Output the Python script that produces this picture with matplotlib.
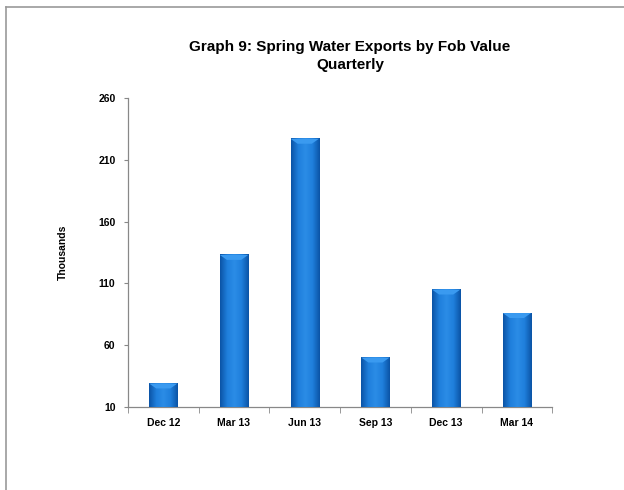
import matplotlib
matplotlib.use("Agg")
import matplotlib.pyplot as plt
import numpy as np
from matplotlib.colors import LinearSegmentedColormap
from matplotlib.lines import Line2D

categories = ["Dec 12", "Mar 13", "Jun 13", "Sep 13", "Dec 13", "Mar 14"]
values = [29, 133, 227, 50, 105, 86]
yticks = [10, 60, 110, 160, 210, 260]

plt.rcParams['font.family'] = ['Liberation Sans', 'DejaVu Sans']

fig = plt.figure(figsize=(6.24, 4.9), dpi=100)
ax = fig.add_axes([0.205, 0.1694, 0.68, 0.6306])

ymin, ymax = yticks[0], yticks[-1]
x = np.arange(len(categories))
bars = ax.bar(x, values, width=0.4, bottom=0, color='#1a74cf', zorder=2)

cmap = LinearSegmentedColormap.from_list('bar', ['#0b54a6', '#1f7fdc', '#2b8ce6', '#1f7fdc', '#0b54a6'])
grad = np.linspace(0, 1, 64).reshape(1, -1)
for b in bars:
    x0, w, h = b.get_x(), b.get_width(), b.get_height()
    im = ax.imshow(grad, cmap=cmap, extent=[x0, x0 + w, ymin, h], aspect='auto',
                   zorder=3, interpolation='bilinear')
    # lighter bevel at top
    top_h = min(4, (h - ymin) * 0.3)
    ax.fill([x0, x0 + w, x0 + w * 0.75, x0 + w * 0.25], [h, h, h - top_h, h - top_h],
            color='#3a9af0', zorder=4, lw=0)
ax.set_xlim(-0.5, len(categories) - 0.5)
ax.set_ylim(ymin, ymax)

ax.set_yticks(yticks)
ax.set_yticklabels([str(v) for v in yticks], fontsize=7.5, fontweight='bold')
ax.set_xticks(x)
ax.set_xticklabels(categories, fontsize=7.5, fontweight='bold')
ax.tick_params(axis='x', length=0, pad=8)
ax.tick_params(axis='y', length=3, color='#888888', pad=6)
ax.set_xticks(np.arange(len(categories) + 1) - 0.5, minor=True)
ax.tick_params(axis='x', which='minor', length=4, color='#888888')

for s in ['top', 'right']:
    ax.spines[s].set_visible(False)
for s in ['left', 'bottom']:
    ax.spines[s].set_color('#888888')
    ax.spines[s].set_linewidth(0.9)

ax.set_ylabel('Thousands', fontsize=7.5, fontweight='bold', labelpad=22)

fig.text(0.561, 0.905, 'Graph 9: Spring Water Exports by Fob Value', ha='center', va='center', fontsize=11, fontweight='bold')
fig.text(0.561, 0.868, 'Quarterly', ha='center', va='center', fontsize=11, fontweight='bold')

fig.add_artist(Line2D([0.0096, 0.0096], [0, 0.986], color='#999999', lw=1.2, transform=fig.transFigure))
fig.add_artist(Line2D([0.0096, 1.0], [0.986, 0.986], color='#999999', lw=1.2, transform=fig.transFigure))

fig.savefig('out.png', dpi=100)
